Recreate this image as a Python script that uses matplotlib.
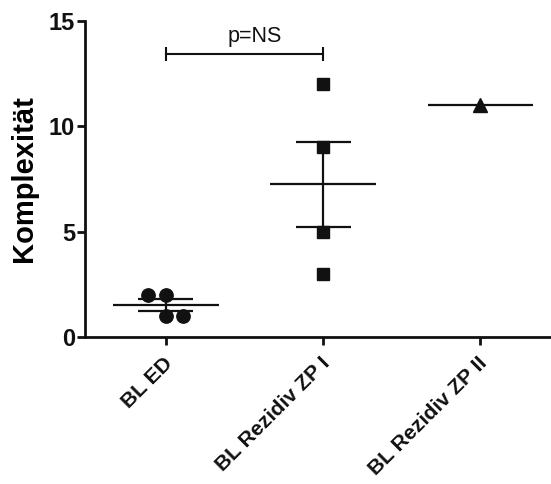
import matplotlib
matplotlib.use("Agg")
import matplotlib.pyplot as plt
import matplotlib.transforms as mtransforms
import numpy as np

plt.rcParams['font.family'] = ['Liberation Sans', 'DejaVu Sans']

categories = ["BL ED", "BL Rezidiv ZP I", "BL Rezidiv ZP II"]
group_values = [
    [2, 2, 1, 1],
    [12, 9, 5, 3],
    [11],
]
markers = ["o", "s", "^"]
ylabel = "Komplexität"
yticks = [0, 5, 10, 15]
sig_label = "p=NS"
sig_pair = (0, 1)
sig_y = 13.42

# display offsets (layout only) for overlapping points
x_offsets = [
    [-0.115, 0.0, 0.0, 0.108],
    [0, 0, 0, 0],
    [0],
]
marker_sizes = [9.6, 8.6, 10.5]

fig = plt.figure(figsize=(5.51, 4.84), dpi=100)
ax = fig.add_axes([0.154, 0.3037, 0.846, 0.653])

for i, vals in enumerate(group_values):
    vals = np.array(vals, dtype=float)
    xs = i + np.array(x_offsets[i])
    ax.plot(xs, vals, linestyle="none", marker=markers[i], color="#111111",
            markersize=marker_sizes[i], zorder=3, clip_on=False)
    m = vals.mean()
    ax.hlines(m, i - 0.335, i + 0.335, color="#111111", lw=1.6, zorder=2)
    if len(vals) > 1:
        sem = vals.std(ddof=1) / np.sqrt(len(vals))
        ax.vlines(i, m - sem, m + sem, color="#111111", lw=1.6, zorder=2)
        ax.hlines([m - sem, m + sem], i - 0.175, i + 0.175, color="#111111", lw=1.6, zorder=2)

# significance bracket
x0, x1 = sig_pair
ax.plot([x0, x1], [sig_y, sig_y], color="#111111", lw=1.5)
ax.vlines([x0, x1], sig_y - 0.33, sig_y + 0.33, color="#111111", lw=1.5)
ax.text(0.567, 14.0, sig_label, ha="center", va="baseline",
        fontsize=15.5, color="#111111")

ax.set_xlim(-0.516, 2.45)
ax.set_ylim(0, 15)
ax.set_yticks(yticks)
ax.set_yticklabels([str(t) for t in yticks], fontsize=17, fontweight="bold")
ax.set_xticks(range(len(categories)))
ax.set_xticklabels(categories, fontsize=15.3, fontweight="bold", rotation=45,
                   ha="right", va="top", rotation_mode="anchor")
ax.set_ylabel(ylabel, fontsize=21, fontweight="bold", va="center")
ax.yaxis.set_label_coords(-0.131, 0.5)

for s in ["top", "right"]:
    ax.spines[s].set_visible(False)
for s in ["left", "bottom"]:
    ax.spines[s].set_linewidth(2)
    ax.spines[s].set_color("#111111")
ax.tick_params(axis="both", width=2, length=6, color="#111111", labelcolor="#111111")
ax.tick_params(axis="y", pad=1)
ax.tick_params(axis="x", pad=6)

offset = mtransforms.ScaledTranslation(-0.03, 0, fig.dpi_scale_trans)
for lab in ax.get_xticklabels():
    lab.set_transform(lab.get_transform() + offset)

fig.savefig("out.png", dpi=100)
